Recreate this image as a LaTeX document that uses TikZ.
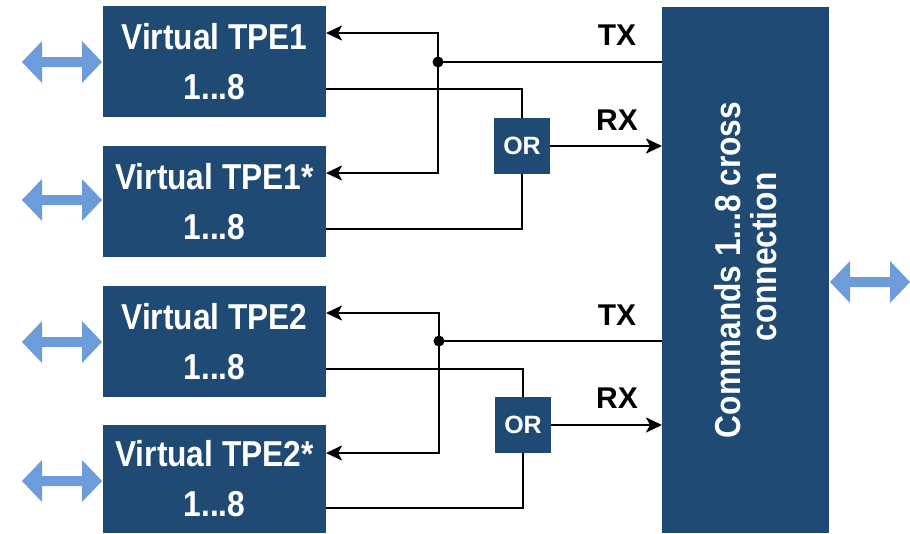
\documentclass[tikz,border=0pt]{standalone}
\usepackage{fontspec}
\setmainfont{Liberation Sans}
\newfontfamily\condsans[FakeStretch=0.88]{Liberation Sans}
\usetikzlibrary{arrows.meta}
\definecolor{boxblue}{HTML}{1F4A73}
\definecolor{linkblue}{HTML}{6C9CDA}
\begin{document}
\begin{tikzpicture}[x=1pt,y=-1pt,
  tpe/.style={fill=boxblue, text=white, inner sep=0pt, outer sep=0pt,
    minimum width=223pt, minimum height=111pt, align=center,
    font=\condsans\fontsize{36}{50}\selectfont\bfseries},
  gate/.style={fill=boxblue, text=white, inner sep=0pt, outer sep=0pt,
    minimum size=56pt, font=\fontsize{25}{30}\selectfont\bfseries},
  crossbox/.style={fill=boxblue, inner sep=0pt, outer sep=0pt,
    minimum width=167pt, minimum height=526pt},
  sig/.style={line width=2.6pt, draw=black},
  tip/.style={-{Stealth[length=16pt,width=15pt,inset=4pt]}},
  chan/.style={font=\fontsize{30}{36}\selectfont\bfseries, inner sep=0pt},
  duplex/.pic={
    \fill[linkblue] (-40,0) -- (-20,-21) -- (-20,-5) -- (20,-5) -- (20,-21)
      -- (40,0) -- (20,21) -- (20,5) -- (-20,5) -- (-20,21) -- cycle;}
]
\useasboundingbox (0,0) rectangle (910,533);

% virtual TPE blocks
\node[tpe] (tpe1)  at (214.5,61.5)  {Virtual TPE1\\1...8};
\node[tpe] (tpe1s) at (214.5,201.5) {Virtual TPE1*\\1...8};
\node[tpe] (tpe2)  at (214.5,341.5) {Virtual TPE2\\1...8};
\node[tpe, minimum height=108pt] (tpe2s) at (214.5,479) {Virtual TPE2*\\1...8};

% cross connection block
\node[crossbox] (xc) at (745.5,270) {};
\node[rotate=90, text=white, align=center, inner sep=0pt,
  font=\condsans\fontsize{36}{36}\selectfont\bfseries] (xctext) at (xc.center)
  {Commands 1...8 cross\\\hspace*{26pt}connection};

% OR gates
\node[gate] (or1) at (522,146) {OR};
\node[gate] (or2) at (523,425) {OR};

% external links
\pic at (62,62)  {duplex};
\pic at (62,200) {duplex};
\pic at (62,342) {duplex};
\pic at (62,481) {duplex};
\pic at (870,282) {duplex};

% junctions of the TX lines
\coordinate (j1) at (438,62);
\coordinate (j2) at (439,341);

% group 1: TX fan-out
\draw[sig] (xc.west |- j1) -- (j1);
\draw[sig, tip] (j1) |- (tpe1.east |- 0,33);
\draw[sig, tip] (j1) |- (tpe1s.east |- 0,173);
\fill (j1) circle (5.5pt);
% group 1: RX merge
\draw[sig] (tpe1.east |- 0,89) -| (or1.north);
\draw[sig] (tpe1s.east |- 0,229) -| (or1.south);
\draw[sig, tip] (or1.east) -- (xc.west |- or1.east);

% group 2: TX fan-out
\draw[sig] (xc.west |- j2) -- (j2);
\draw[sig, tip] (j2) |- (tpe2.east |- 0,313);
\draw[sig, tip] (j2) |- (tpe2s.east |- 0,453);
\fill (j2) circle (5.5pt);
% group 2: RX merge
\draw[sig] (tpe2.east |- 0,369) -| (or2.north);
\draw[sig] (tpe2s.east |- 0,508) -| (or2.south);
\draw[sig, tip] (or2.east) -- (xc.west |- or2.east);

% channel labels
\node[chan] (tx1) at (617,35)  {TX};
\node[chan] (rx1) at (617,120) {RX};
\node[chan] (tx2) at (617,315) {TX};
\node[chan] (rx2) at (617,398) {RX};
\end{tikzpicture}
\end{document}
